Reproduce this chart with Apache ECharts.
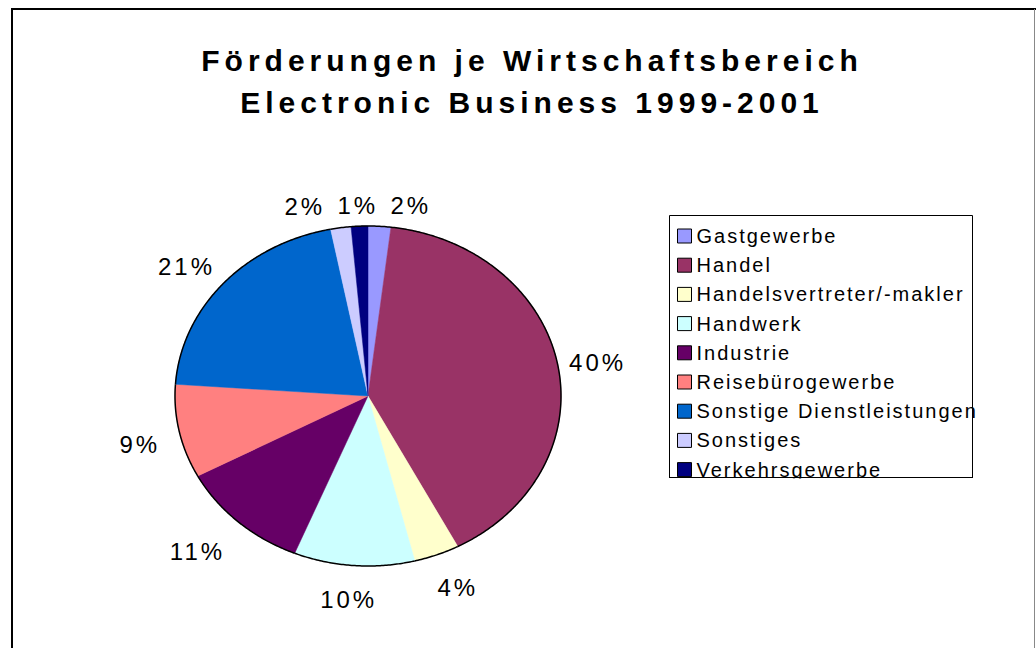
<!DOCTYPE html>
<html>
<head>
<meta charset="utf-8">
<script src="https://cdn.jsdelivr.net/npm/echarts@6.0.0/dist/echarts.min.js"></script>
<style>
  html, body { margin: 0; padding: 0; background: #fff; }
  #chart { width: 1036px; height: 648px; }
  /* Excel draws its text with wide letter spacing */
  #chart text[style*="30px"] { letter-spacing: 5px; }
  #chart text[style*="20px"] { letter-spacing: 2px; }
  #chart text[style*="24px"] { letter-spacing: 3px; }
</style>
</head>
<body>
<div id="chart"></div>
<script>
// data
var categories = ['Gastgewerbe', 'Handel', 'Handelsvertreter/-makler', 'Handwerk', 'Industrie',
  'Reisebürogewerbe', 'Sonstige Dienstleistungen', 'Sonstiges', 'Verkehrsgewerbe']
var shares = [1.9, 40.4, 3.8, 10.1, 11.0, 8.9, 20.8, 1.7, 1.4]
var colors = ['#9999ff', '#993366', '#ffffcc', '#ccffff', '#660066',
  '#ff8080', '#0066cc', '#ccccff', '#000080']
var titleText = 'Förderungen je Wirtschaftsbereich\nElectronic Business 1999-2001'

var labels = shares.map(function (v) { return Math.round(v) + '%' })

// the pie is squashed (wider than tall), so it is drawn on a value grid
var pieCx = 368, pieCy = 396, pieRx = 193, pieRy = 170
var gap = 13, labelGap = 15
var font = '"Liberation Sans", Arial, sans-serif'

var total = shares.reduce(function (a, b) { return a + b }, 0)
var bounds = []
var acc = 0
shares.forEach(function (v) {
  bounds.push([acc / total, (acc + v) / total])
  acc += v
})

function clamp(v) { return Math.max(-1, Math.min(1, v)) }

function arcPoint(api, f) {
  var a = f * Math.PI * 2
  return api.coord([Math.sin(a), Math.cos(a)])
}

function labelBoxes(api) {
  var boxes = bounds.map(function (b, i) {
    var a = (b[0] + b[1]) * Math.PI
    var s = Math.sin(a), k = Math.cos(a)
    var p = api.coord([s, k])
    var w = 16 * labels[i].length + 6, h = 24
    return {
      w: w, h: h, top: k > 0,
      x: p[0] + s * gap + clamp(2 * s) * w / 2 + (k < 0 ? s * 8 : 0),
      y: p[1] - k * gap - clamp(2 * k) * h / 2 + 4 + (k < 0 ? -k * 5 : 0)
    }
  })
  // push apart labels that would overlap (small slices at the top)
  ;[true, false].forEach(function (top) {
    var row = boxes.filter(function (b) { return b.top === top })
      .sort(function (a, b) { return a.x - b.x })
    var groups = []
    row.forEach(function (b) {
      var g = groups[groups.length - 1]
      var last = g && g[g.length - 1]
      if (last && Math.abs(last.y - b.y) < b.h && b.x - last.x < (last.w + b.w) / 2 + labelGap) g.push(b)
      else groups.push([b])
    })
    groups.forEach(function (g) {
      if (g.length < 2) return
      var mean = g.reduce(function (s, b) { return s + b.x }, 0) / g.length
      var pos = [0]
      for (var j = 1; j < g.length; j++) pos.push(pos[j - 1] + (g[j - 1].w + g[j].w) / 2 + labelGap)
      var mid = (pos[0] + pos[pos.length - 1]) / 2
      g.forEach(function (b, j) { b.x = mean + pos[j] - mid })
    })
  })
  return boxes
}

function renderSlice(params, api) {
  var i = params.seriesIndex
  var f0 = bounds[i][0], f1 = bounds[i][1]
  var c = api.coord([0, 0])
  var arc = []
  var steps = Math.max(2, Math.ceil((f1 - f0) * 720))
  for (var j = 0; j <= steps; j++) arc.push(arcPoint(api, f0 + (f1 - f0) * j / steps))
  var box = labelBoxes(api)[i]
  return {
    type: 'group',
    children: [
      { type: 'polygon', z2: 1, shape: { points: [c].concat(arc) },
        style: { fill: colors[i], stroke: colors[i], lineWidth: 0.5 } },
      { type: 'polyline', z2: 5, shape: { points: arc },
        style: { fill: null, stroke: '#000', lineWidth: 1.5 } },
      { type: 'text', z2: 6, x: box.x, y: box.y,
        style: { text: labels[i], fill: '#000', fontSize: 24, fontFamily: font,
          align: 'center', verticalAlign: 'middle' } }
    ]
  }
}

var chart = echarts.init(document.getElementById('chart'), null, { renderer: 'svg' })
var option = {
  animation: false,
  backgroundColor: '#fff',
  color: colors,
  title: {
    text: titleText,
    left: 532,
    top: 39,
    textAlign: 'center',
    padding: 0,
    textStyle: { fontSize: 30, fontWeight: 'bold', lineHeight: 42, color: '#000', fontFamily: font }
  },
  legend: {
    orient: 'vertical',
    left: 677,
    top: 226,
    padding: 0,
    icon: 'rect',
    itemWidth: 14,
    itemHeight: 14,
    itemGap: 9.2,
    selectedMode: false,
    data: categories,
    itemStyle: { borderColor: '#000', borderWidth: 1 },
    textStyle: { fontSize: 20, color: '#000', fontFamily: font }
  },
  grid: {
    left: pieCx - pieRx,
    top: pieCy - pieRy,
    width: pieRx * 2,
    height: pieRy * 2
  },
  xAxis: { type: 'value', min: -1, max: 1, show: false },
  yAxis: { type: 'value', min: -1, max: 1, show: false },
  series: categories.map(function (name, i) {
    return {
      type: 'custom',
      name: name,
      coordinateSystem: 'cartesian2d',
      silent: true,
      itemStyle: { color: colors[i] },
      data: [[0, 0]],
      renderItem: renderSlice
    }
  }),
  graphic: [
    // outer chart frame
    { type: 'line', shape: { x1: 11, y1: 9, x2: 1036, y2: 9 }, style: { stroke: '#000', lineWidth: 2 } },
    { type: 'line', shape: { x1: 12, y1: 8, x2: 12, y2: 648 }, style: { stroke: '#000', lineWidth: 2 } },
    { type: 'line', shape: { x1: 1034.5, y1: 9, x2: 1034.5, y2: 648 }, style: { stroke: '#888', lineWidth: 1 } },
    // legend frame
    { type: 'rect', z: 0, shape: { x: 669.5, y: 215.5, width: 303, height: 262 },
      style: { fill: '#fff', stroke: '#000', lineWidth: 1 } },
    // the legend overflows its frame at the bottom and is cut off there
    { type: 'rect', z: 10, shape: { x: 660, y: 478.5, width: 330, height: 20 },
      style: { fill: '#fff' } },
    { type: 'line', z: 11, shape: { x1: 669, y1: 477.5, x2: 973, y2: 477.5 },
      style: { stroke: '#000', lineWidth: 1 } }
  ]
}
chart.setOption(option)
</script>
</body>
</html>
